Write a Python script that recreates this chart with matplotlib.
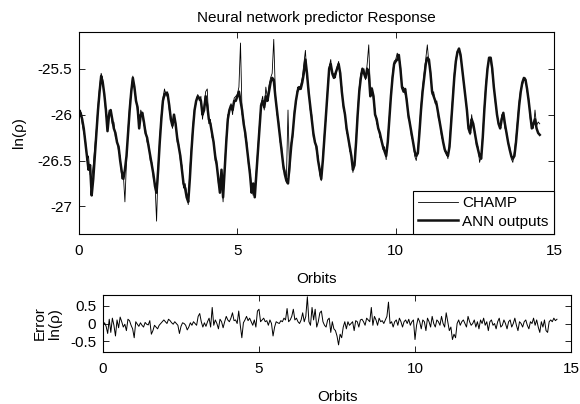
import numpy as np
import matplotlib
matplotlib.use("Agg")
import matplotlib.pyplot as plt

plt.rcParams['font.family'] = ['Liberation Sans', 'DejaVu Sans']
plt.rcParams['font.size'] = 11

# samples every 0.05 orbit, 0 .. 14.55
step = 0.05

ann = [
    -26.02, -25.98, -26.05, -26.15, -26.30, -26.45, -26.60, -26.55, -26.88, -26.70, -26.45, -26.20, -25.95, -25.75, -25.58, -25.65, -25.78, -25.95, -26.18, -26.00,
    -25.95, -26.05, -26.15, -26.20, -26.30, -26.35, -26.50, -26.62, -26.70, -26.60, -26.45, -26.20, -25.95, -25.75, -25.60, -25.70, -25.85, -25.92, -26.15, -26.00,
    -25.98, -26.08, -26.20, -26.25, -26.35, -26.45, -26.55, -26.65, -26.78, -26.85, -26.60, -26.30, -26.05, -25.85, -25.78, -25.76, -25.78, -25.90, -26.05, -26.12,
    -26.00, -26.10, -26.25, -26.35, -26.45, -26.60, -26.75, -26.80, -26.90, -26.95, -26.70, -26.40, -26.15, -25.95, -25.85, -25.80, -25.82, -25.85, -26.00, -25.95,
    -25.80, -25.90, -26.05, -26.10, -26.20, -26.30, -26.45, -26.55, -26.70, -26.85, -26.60, -26.90, -26.60, -26.30, -26.05, -25.95, -25.90, -25.95, -25.85, -25.85,
    -25.80, -25.75, -25.85, -25.95, -26.10, -26.20, -26.35, -26.50, -26.65, -26.85, -26.75, -26.90, -26.65, -26.40, -26.15, -25.90, -25.85, -25.92, -25.80, -25.85,
    -25.75, -25.65, -25.60, -25.62, -25.80, -25.95, -26.10, -26.25, -26.40, -26.55, -26.65, -26.72, -26.75, -26.55, -26.35, -26.20, -26.00, -25.85, -25.75, -25.70,
    -25.72, -25.65, -25.55, -25.40, -25.55, -25.75, -25.90, -26.05, -26.20, -26.30, -26.35, -26.50, -26.60, -26.70, -26.50, -26.25, -26.00, -25.75, -25.50, -25.45,
    -25.55, -25.60, -25.55, -25.50, -25.45, -25.55, -25.75, -25.90, -26.00, -26.15, -26.25, -26.35, -26.45, -26.60, -26.55, -26.30, -26.00, -25.75, -25.60, -25.50,
    -25.55, -25.60, -25.50, -25.55, -25.80, -25.72, -25.80, -26.00, -26.05, -26.15, -26.20, -26.28, -26.35, -26.40, -26.45, -26.30, -26.05, -25.80, -25.60, -25.45,
    -25.42, -25.40, -25.35, -25.50, -25.70, -25.75, -25.72, -25.85, -26.00, -26.10, -26.20, -26.30, -26.40, -26.45, -26.42, -26.20, -25.95, -25.75, -25.60, -25.45,
    -25.38, -25.40, -25.55, -25.75, -25.80, -25.85, -25.90, -26.00, -26.10, -26.20, -26.30, -26.38, -26.42, -26.45, -26.35, -26.10, -25.85, -25.60, -25.42, -25.32,
    -25.28, -25.35, -25.50, -25.65, -25.80, -25.95, -26.15, -26.20, -26.05, -26.10, -26.20, -26.30, -26.38, -26.45, -26.48, -26.25, -25.95, -25.70, -25.50, -25.38,
    -25.38, -25.50, -25.70, -25.85, -26.00, -26.10, -26.15, -26.05, -25.98, -26.10, -26.20, -26.30, -26.38, -26.45, -26.48, -26.45, -26.30, -26.10, -25.90, -25.75,
    -25.65, -25.60, -25.62, -25.72, -25.85, -26.00, -26.15, -26.10, -26.05, -26.15, -26.20, -26.22,
]

champ = [
    -26.05, -25.95, -26.10, -26.20, -26.25, -26.50, -26.45, -26.65, -26.70, -26.55, -26.35, -26.15, -25.90, -25.70, -25.55, -25.62, -25.80, -26.00, -26.10, -25.95,
    -25.98, -26.10, -26.08, -26.25, -26.28, -26.40, -26.45, -26.70, -26.65, -26.95, -26.50, -26.15, -25.90, -25.72, -25.58, -25.72, -25.82, -25.98, -26.12, -25.95,
    -26.00, -26.12, -26.15, -26.30, -26.32, -26.50, -26.52, -26.70, -26.75, -27.16, -26.55, -26.25, -26.00, -25.82, -25.72, -25.80, -25.75, -25.95, -26.02, -26.15,
    -26.05, -26.08, -26.30, -26.32, -26.50, -26.55, -26.80, -26.75, -26.85, -26.98, -26.60, -26.35, -26.10, -25.92, -25.88, -25.78, -25.85, -25.80, -26.05, -25.90,
    -25.75, -25.72, -26.10, -26.05, -26.25, -26.28, -26.50, -26.50, -26.75, -26.80, -26.65, -26.95, -26.55, -26.25, -26.00, -25.98, -25.88, -26.00, -25.82, -25.80,
    -25.78, -25.70, -25.22, -26.00, -26.05, -26.25, -26.30, -26.55, -26.60, -26.80, -26.88, -26.80, -26.60, -26.35, -26.10, -25.88, -25.80, -25.95, -25.70, -25.82,
    -25.68, -25.60, -25.55, -25.18, -25.75, -26.00, -26.05, -26.30, -26.35, -26.60, -26.60, -26.70, -25.95, -26.65, -26.30, -26.25, -25.95, -25.88, -25.70, -25.72,
    -25.68, -25.60, -25.45, -25.30, -25.60, -25.70, -25.95, -26.00, -26.25, -26.28, -26.40, -26.45, -26.65, -26.72, -26.45, -26.20, -26.05, -25.70, -25.48, -25.40,
    -25.58, -25.55, -25.60, -25.48, -25.42, -25.60, -25.70, -25.95, -25.98, -26.20, -26.22, -26.40, -26.42, -26.63, -26.50, -26.25, -25.95, -25.70, -25.55, -25.52,
    -25.50, -25.62, -25.45, -25.24, -25.75, -25.70, -25.85, -25.95, -26.10, -26.12, -26.25, -26.25, -26.38, -26.35, -26.49, -26.25, -26.00, -25.78, -25.55, -25.42,
    -25.40, -25.33, -25.38, -25.45, -25.72, -25.70, -25.78, -25.82, -26.05, -26.08, -26.25, -26.28, -26.45, -26.50, -26.38, -26.15, -25.90, -25.70, -25.55, -25.40,
    -25.24, -25.45, -25.50, -25.78, -25.75, -25.88, -25.85, -26.05, -26.08, -26.25, -26.28, -26.40, -26.40, -26.48, -26.30, -26.05, -25.80, -25.55, -25.40, -25.30,
    -25.30, -25.38, -25.48, -25.68, -25.78, -25.98, -26.10, -26.22, -26.00, -26.15, -26.18, -26.35, -26.35, -26.52, -26.45, -26.20, -25.90, -25.65, -25.48, -25.40,
    -25.40, -25.55, -25.68, -25.88, -25.98, -26.12, -26.12, -26.00, -26.00, -26.15, -26.18, -26.32, -26.35, -26.48, -26.52, -26.40, -26.25, -26.05, -25.85, -25.72,
    -25.68, -25.62, -25.60, -25.75, -25.82, -26.05, -26.10, -26.15, -25.95, -26.12, -26.08, -26.10,
]

error = [
    -0.05, 0.02, -0.08, -0.28, 0.12, -0.25, 0.15, -0.05, -0.35, 0.10, -0.12, 0.18, 0.05, -0.10, -0.02, -0.20, 0.12, 0.08, -0.05, -0.15,
    -0.40, 0.05, -0.02, -0.08, 0.02, -0.05, -0.10, 0.03, -0.02, -0.04, 0.08, -0.30, -0.20, -0.05, -0.10, -0.15, -0.05, 0.00, 0.05, 0.10,
    0.05, 0.00, 0.12, 0.08, 0.02, -0.02, 0.05, 0.00, -0.05, -0.28, -0.08, 0.02, 0.00, -0.05, -0.18, -0.10, 0.02, -0.05, 0.05, 0.00,
    -0.05, 0.20, 0.28, 0.05, -0.10, 0.02, -0.08, 0.05, 0.15, -0.10, 0.45, -0.05, 0.10, 0.00, -0.15, 0.12, 0.05, -0.12, 0.05, 0.20,
    0.10, 0.05, 0.15, 0.30, 0.08, 0.10, 0.00, 0.35, -0.05, -0.40, 0.02, 0.10, 0.20, 0.08, 0.15, 0.05, -0.05, 0.10, -0.10, 0.35,
    0.40, 0.05, 0.10, 0.15, 0.05, 0.08, -0.05, 0.10, 0.00, -0.35, -0.10, 0.05, 0.02, 0.00, 0.08, 0.05, 0.15, 0.10, 0.42, 0.05,
    0.10, 0.20, 0.40, 0.10, 0.15, 0.05, 0.00, 0.10, 0.30, 0.05, 0.20, 0.75, 0.05, -0.05, 0.45, 0.10, 0.40, -0.10, 0.05, 0.30,
    0.35, 0.05, -0.05, -0.10, 0.10, 0.15, -0.25, 0.05, -0.15, -0.20, -0.35, -0.60, -0.30, -0.40, -0.10, 0.05, -0.15, 0.05, -0.05, 0.00,
    0.05, -0.20, 0.08, 0.05, -0.10, 0.10, 0.12, 0.05, -0.05, 0.15, 0.10, 0.05, 0.45, -0.05, 0.20, 0.10, -0.05, 0.15, 0.05, 0.08,
    0.00, 0.10, 0.20, 0.60, 0.00, 0.05, -0.10, 0.05, 0.10, -0.05, 0.15, 0.05, -0.10, 0.05, 0.10, 0.00, 0.12, -0.05, 0.05, 0.10,
    -0.45, -0.05, 0.15, 0.05, -0.15, 0.10, 0.05, -0.20, 0.15, 0.05, -0.10, 0.20, 0.00, -0.10, 0.10, 0.05, -0.05, 0.20, 0.00, -0.10,
    0.30, 0.05, -0.20, -0.10, -0.45, -0.30, -0.40, 0.00, 0.10, -0.05, 0.05, 0.10, 0.00, -0.10, 0.20, 0.05, -0.05, 0.00, 0.10, -0.10,
    0.05, -0.15, 0.10, 0.00, 0.15, -0.05, 0.05, -0.20, 0.05, 0.10, -0.05, 0.00, -0.15, 0.05, 0.15, -0.10, -0.05, 0.10, 0.00, -0.15,
    0.05, 0.10, -0.10, 0.00, 0.15, -0.05, -0.20, 0.05, 0.00, -0.10, 0.05, 0.10, -0.05, -0.15, 0.05, 0.00, 0.15, -0.05, 0.10, -0.10,
    -0.25, 0.05, -0.10, 0.10, -0.20, -0.25, 0.05, 0.10, 0.05, 0.15, 0.08, 0.12,
]

orbits = np.arange(len(ann)) * step

fig = plt.figure(figsize=(5.8, 4.04), dpi=100)

# top panel
ax1 = fig.add_axes([79 / 580, 1 - 234 / 404, 475 / 580, 202 / 404])
ax1.plot(orbits, champ, color='black', lw=0.6, label='CHAMP')
ax1.plot(orbits, ann, color='#111111', lw=1.8, label='ANN outputs')
ax1.set_xlim(0, 15)
ax1.set_ylim(-27.3, -25.1)
ax1.set_xticks([0, 5, 10, 15])
ax1.set_yticks([-27, -26.5, -26, -25.5])
ax1.set_yticklabels(['-27', '-26.5', '-26', '-25.5'])
ax1.set_title('Neural network predictor Response', fontsize=11, pad=7)
ax1.set_xlabel('Orbits', labelpad=10)
ax1.set_ylabel('ln(ρ)', labelpad=8)
leg = ax1.legend(loc='lower right', borderaxespad=0, fancybox=False,
                 edgecolor='black', framealpha=1, handlelength=2.6,
                 handletextpad=0.3, labelspacing=0.3, borderpad=0.35)
leg.get_frame().set_linewidth(0.8)

# bottom panel
ax2 = fig.add_axes([103 / 580, 1 - 352 / 404, 468 / 580, 57 / 404])
ax2.plot(orbits, error, color='black', lw=0.7)
ax2.set_xlim(0, 15)
ax2.set_ylim(-0.8, 0.8)
ax2.set_xticks([0, 5, 10, 15])
ax2.set_yticks([-0.5, 0, 0.5])
ax2.set_yticklabels(['-0.5', '0', '0.5'])
ax2.set_xlabel('Orbits', labelpad=10)
ax2.set_ylabel('Error\nln(ρ)', labelpad=6, linespacing=1.1)

for ax in (ax1, ax2):
    ax.tick_params(direction='in', top=True, right=True, length=4,
                   width=0.6, labelsize=11, pad=5)
    ax.tick_params(axis='x', pad=7)
    for s in ax.spines.values():
        s.set_linewidth(0.8)

fig.savefig('out.png', dpi=100)
